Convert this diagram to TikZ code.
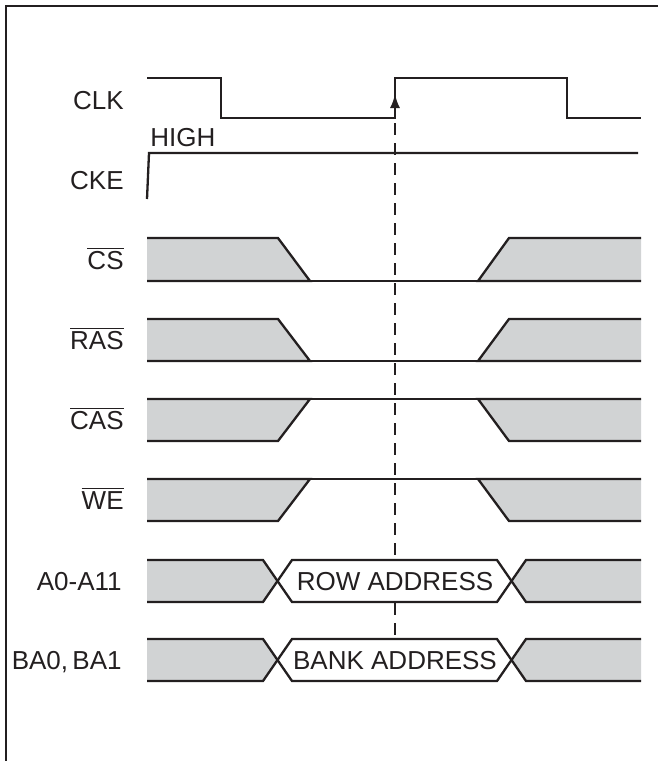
\documentclass[tikz,border=0pt]{standalone}
\usepackage{fontspec}
\setmainfont{Liberation Sans}
\usetikzlibrary{arrows.meta}
\definecolor{siggrey}{RGB}{209,211,212}
\definecolor{ink}{RGB}{35,31,32}

\begin{document}
\begin{tikzpicture}[x=0.5pt,y=-0.5pt,
	wave/.style={draw=ink,line width=1.15pt,line join=miter},
	thin wave/.style={draw=ink,line width=0.8pt},
	lbl/.style={anchor=base east,inner sep=0pt,text=ink,font=\fontsize{13}{15}\selectfont},
	bustext/.style={anchor=base,inner sep=0pt,text=ink,font=\fontsize{13}{15}\selectfont}]
	\useasboundingbox (0,0) rectangle (658,761);
	% frame
	\draw[ink,line width=1.25pt] (6,790) -- (6,6) -- (690,6);

	% signal names
	\node[lbl] (clk) at (124,109) {CLK};
	\node[lbl] (cke) at (124,189) {CKE};
	\node[lbl] (cs) at (124,269) {$\overline{\mbox{CS}}$};
	\node[lbl] (ras) at (124,349) {$\overline{\mbox{RAS}}$};
	\node[lbl] (cas) at (124,429) {$\overline{\mbox{CAS}}$};
	\node[lbl] (we) at (124,509) {$\overline{\mbox{WE}}$};
	\node[lbl] (addr) at (122,590) {A0-A11};
	\node[lbl] (bank) at (122,669) {BA0,\,BA1};
	\node[bustext,anchor=base west] (high) at (150,146) {HIGH};

	% reference edge
	\draw[ink,line width=0.8pt,dash pattern=on 6pt off 4pt,dash phase=-2.5pt] (395,118) -- (395,639);

	% CLK
	\draw[wave] (147,78) -- (221,78) -- (221,118) -- (395,118) -- (395,78) -- (567,78) -- (567,118) -- (641,118);
	\draw[ink,line width=1pt,-{Latex[length=7pt,width=5pt]}] (395,118) -- (395,94);

	% CKE
	\draw[wave] (147,199) -- (149,153) -- (638,153);

	% CS
	\draw[wave,fill=siggrey] (147,238) -- (278,238) -- (310,281) -- (147,281);
	\draw[wave,fill=siggrey] (641,238) -- (509,238) -- (478,281) -- (641,281);
	\draw[thin wave] (310,281) -- (478,281);

	% RAS
	\draw[wave,fill=siggrey] (147,319) -- (278,319) -- (310,361) -- (147,361);
	\draw[wave,fill=siggrey] (641,319) -- (509,319) -- (478,361) -- (641,361);
	\draw[thin wave] (310,361) -- (478,361);

	% CAS
	\draw[wave,fill=siggrey] (147,441) -- (278,441) -- (310,399) -- (147,399);
	\draw[wave,fill=siggrey] (641,441) -- (509,441) -- (478,399) -- (641,399);
	\draw[thin wave] (310,399) -- (478,399);

	% WE
	\draw[wave,fill=siggrey] (147,521) -- (278,521) -- (310,479) -- (147,479);
	\draw[wave,fill=siggrey] (641,521) -- (509,521) -- (478,479) -- (641,479);
	\draw[thin wave] (310,479) -- (478,479);

	% A0-A11
	\draw[wave,fill=siggrey] (147,560) -- (263,560) -- (277.5,581) -- (263,602) -- (147,602);
	\draw[wave,fill=white] (277.5,581) -- (292,560) -- (497,560) -- (511.5,581) -- (497,602) -- (292,602) -- cycle;
	\draw[wave,fill=siggrey] (641,560) -- (526,560) -- (511.5,581) -- (526,602) -- (641,602);
	\node[bustext] (row) at (395,590) {ROW ADDRESS};

	% BA0, BA1
	\draw[wave,fill=siggrey] (147,639) -- (263,639) -- (277.5,660) -- (263,681) -- (147,681);
	\draw[wave,fill=white] (277.5,660) -- (292,639) -- (497,639) -- (511.5,660) -- (497,681) -- (292,681) -- cycle;
	\draw[wave,fill=siggrey] (641,639) -- (526,639) -- (511.5,660) -- (526,681) -- (641,681);
	\node[bustext] (bankaddr) at (395,669) {BANK ADDRESS};
\end{tikzpicture}
\end{document}
